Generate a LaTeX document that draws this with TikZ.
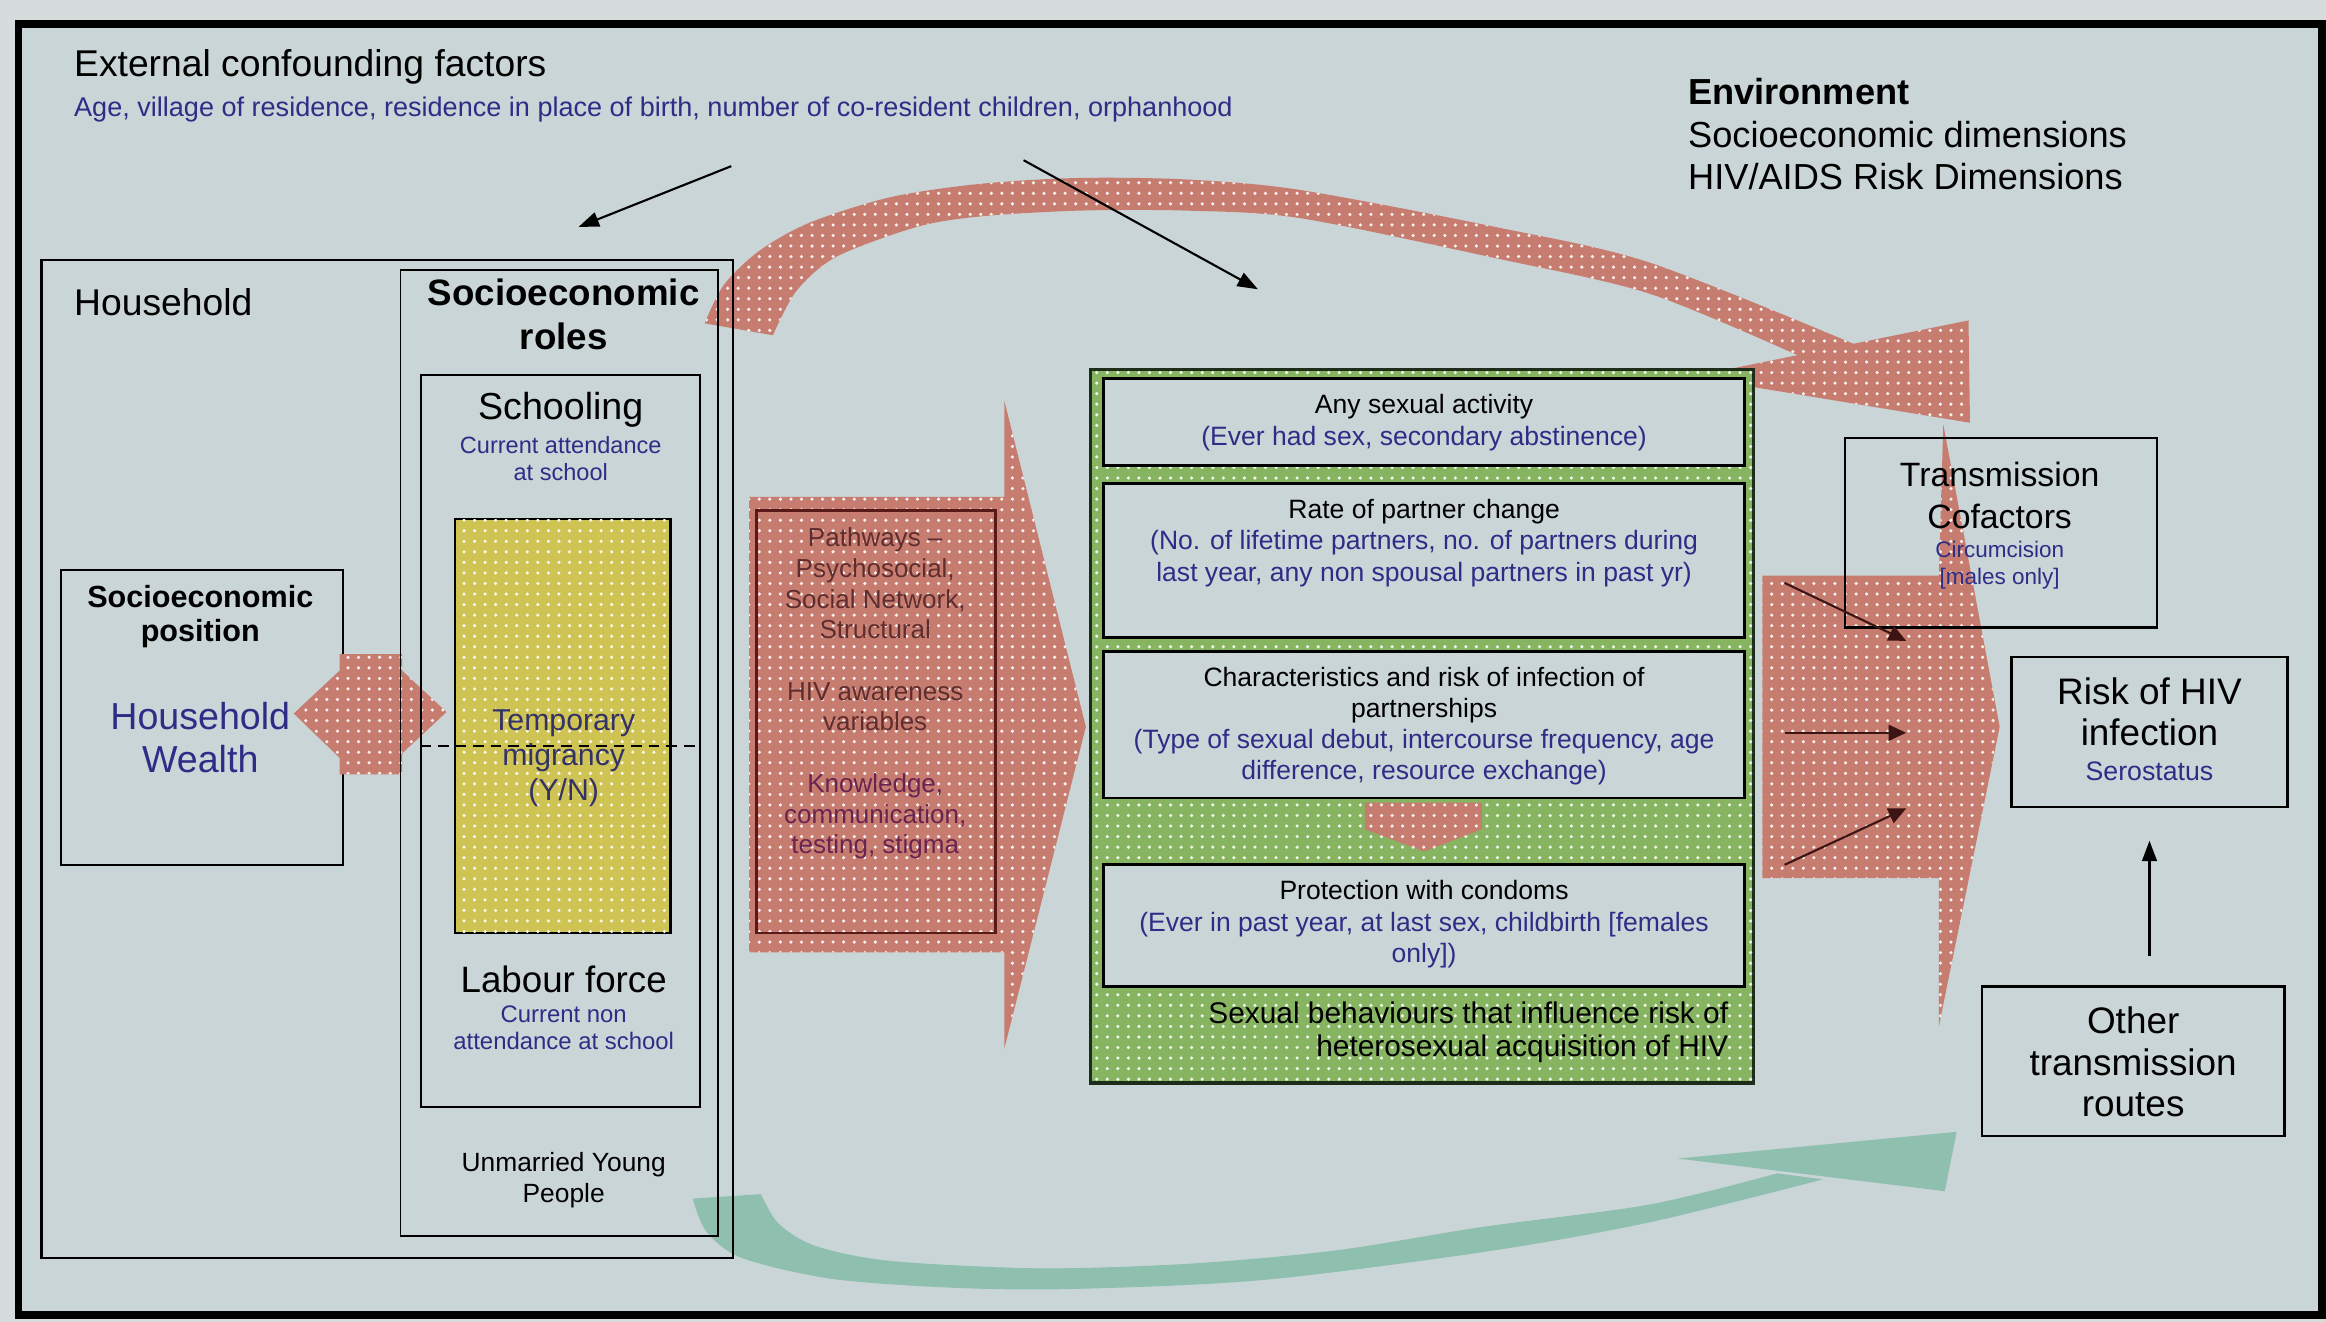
\documentclass[tikz,border=0pt]{standalone}
\usepackage{fontspec}
\setmainfont{Liberation Sans}
\usetikzlibrary{arrows.meta,fit,patterns}
\definecolor{outbg}{RGB}{214,220,220}
\definecolor{inbg}{RGB}{202,213,215}
\definecolor{salmon}{RGB}{199,124,112}
\definecolor{gbox}{RGB}{134,180,97}
\definecolor{gline}{RGB}{30,45,25}
\definecolor{ybox}{RGB}{207,195,84}
\definecolor{tealarr}{RGB}{143,191,175}
\definecolor{bluetxt}{RGB}{45,45,135}
\definecolor{migtxt}{RGB}{50,50,100}
\definecolor{pathtxt}{RGB}{95,45,45}
\definecolor{purptxt}{RGB}{105,35,80}
\definecolor{pathline}{RGB}{90,25,25}
\definecolor{darkarr}{RGB}{60,20,20}
\newcommand{\fs}[2]{\fontsize{#1pt}{#2pt}\selectfont}
\begin{document}
\begin{tikzpicture}[x=0.014834cm,y=-0.014834cm,
  boxst/.style={draw=black, line width=0.6pt, inner sep=0pt},
  txt/.style={inner sep=0pt, outer sep=0pt, align=center, text=black},
  dotfill/.style={fill=#1, postaction={pattern=dots, pattern color=white!90!#1}},
  arr/.style={-{Triangle[length=5.8pt,width=4.2pt]}, line width=0.6pt, draw=black},
  darr/.style={-{Triangle[length=5pt,width=4.5pt]}, line width=0.6pt, draw=darkarr}]
% background and frame
\fill[outbg] (0,0) rectangle (1568,891);
\useasboundingbox (0,0) rectangle (1568,891);
\node[fit={(12.5,16) (1565.5,886.5)}, inner sep=0pt, draw=black, line width=2.2pt, fill=inbg] (frame) {};
% top curved red arrow
\path[dotfill=salmon] plot[smooth] coordinates {(475,218) (488,192) (512,169) (546,150) (600,133) (660,124) (727,120) (800,121) (876,128) (1008,153) (1112,177) (1250,232)}
  -- plot[smooth] coordinates {(1213,240) (1112,198) (1008,174) (876,147) (800,142) (727,142) (660,146) (618,153) (564,173) (537,196) (521,226)} -- cycle;
\path[dotfill=salmon] (1140,254) -- (1327,216) -- (1328,285) -- cycle;
% big red block arrows
\path[dotfill=salmon] (505,335) -- (677,335) -- (677,270) -- (732,490) -- (677,707) -- (677,642) -- (505,642) -- cycle;
\path[dotfill=salmon] (1188,388) -- (1307,388) -- (1310,286) -- (1348,490) -- (1307,692) -- (1307,592) -- (1188,592) -- cycle;
% bottom curved green arrow
\fill[tealarr] plot[smooth] coordinates {(467,808) (476,830) (500,848) (560,862) (640,868) (720,869) (850,863) (1000,844) (1112,824) (1229,795)}
  -- plot[smooth] coordinates {(1198,791) (1112,812) (1000,827) (900,843) (800,852) (700,855) (600,850) (550,840) (525,825) (513,805)} -- cycle;
\fill[tealarr] (1131,781) -- (1319,763) -- (1311,803) -- cycle;
% household side
\node[boxst, fit={(28,175) (494,848)}] (household) {};
\node[boxst, fit={(41,384) (231,583)}] (sepos) {};
\path[dotfill=salmon] (229,441) -- (271,441) -- (271,452) -- (301,480) -- (271,508) -- (271,522) -- (229,522) -- (229,511) -- (198,481) -- (229,452) -- cycle;
\node[boxst, line width=0.5pt, fit={(270,182) (484,833)}] (roles) {};
\node[boxst, line width=0.5pt, fit={(284,253) (472,746)}] (school) {};
\node[boxst, dotfill=ybox, fit={(307,350) (452,629)}] (migr) {};
\coordinate (divy) at (0,503);
\draw[densely dashed, line width=0.5pt] (school.west |- divy) -- (school.east |- divy);
% pathways box
\node[draw=pathline, line width=0.7pt, inner sep=0pt, fit={(510,344) (671,629)}] (pathbox) {};
% sexual behaviours
\node[dotfill=gbox, draw=gline, line width=1pt, inner sep=0pt, fit={(735,249) (1182,730)}] (sexbeh) {};
\node[boxst, fill=inbg, line width=0.8pt, fit={(744,255) (1176,314)}] (anysex) {};
\node[boxst, fill=inbg, line width=0.8pt, fit={(744,326) (1176,430)}] (rate) {};
\node[boxst, fill=inbg, line width=0.8pt, fit={(744,439) (1176,538)}] (charac) {};
\node[boxst, fill=inbg, line width=0.8pt, fit={(744,583) (1176,665)}] (condom) {};
\path[dotfill=salmon] (920,541) -- (999,541) -- (999,559) -- (960,574) -- (920,559) -- cycle;
% right side boxes
\node[boxst, fit={(1244,295) (1454,423)}] (cofac) {};
\node[boxst, fit={(1356,443) (1542,544)}] (risk) {};
\node[boxst, fit={(1336,665) (1540,766)}] (other) {};
% texts
\node[txt, anchor=west, font=\fs{10.6}{12}] (exttitle) at (50,45) {External confounding factors};
\node[txt, anchor=west, text=bluetxt, font=\fs{7.7}{9}] (extlist) at (50,74) {Age, village of residence, residence in place of birth, number of co-resident children, orphanhood};
\node[txt, anchor=west, align=left, font=\fs{10.3}{12.03}] (envtext) at (1138,90.5) {\textbf{Environment}\\Socioeconomic dimensions\\HIV/AIDS Risk Dimensions};
\node[txt, anchor=west, font=\fs{10.6}{12}] (hhtitle) at (50,204) {Household};
\node[txt, font=\bfseries\fs{10.45}{12.66}] (rolestitle) at (380,212) {Socioeconomic\\roles};
\node[txt, font=\fs{10.7}{12}] (schooltitle) at (378,276) {Schooling};
\node[txt, text=bluetxt, font=\fs{6.7}{7.6}] (schoolsub) at (378,309) {Current attendance\\at school};
\node[txt, text=migtxt, font=\fs{8.6}{9.92}] (migtext) at (380,511) {Temporary\\migrancy\\(Y/N)};
\node[txt, font=\fs{10.45}{12}] (labtitle) at (380,660) {Labour force};
\node[txt, text=bluetxt, font=\fs{6.8}{7.6}] (labsub) at (380,693) {Current non\\attendance at school};
\node[txt, font=\fs{7.5}{8.86}] (unmarried) at (380,795.5) {Unmarried Young\\People};
\node[txt, font=\bfseries\fs{8.7}{9.7}] (sepostitle) at (135,415.5) {Socioeconomic\\position};
\node[txt, text=bluetxt, font=\fs{10.7}{12.24}] (wealth) at (135,497.5) {Household\\Wealth};
\node[txt, text=pathtxt, font=\fs{7.4}{8.74}] (pathtext) at (590,467.5) {Pathways --\\Psychosocial,\\Social Network,\\Structural\\[8.74pt]HIV awareness\\variables\\[8.74pt]\textcolor{purptxt}{Knowledge,}\\\textcolor{purptxt}{communication,}\\\textcolor{purptxt}{testing, stigma}};
\node[txt, font=\fs{7.55}{9.2}] (anysextext) at (960,285) {Any sexual activity\\\textcolor{bluetxt}{(Ever had sex, secondary abstinence)}};
\node[txt, font=\fs{7.55}{8.9}] (ratetext) at (960,366) {Rate of partner change\\\textcolor{bluetxt}{(No. of lifetime partners, no. of partners during}\\\textcolor{bluetxt}{last year, any non spousal partners in past yr)}};
\node[txt, font=\fs{7.55}{8.9}] (charactext) at (960,489.5) {Characteristics and risk of infection of\\partnerships\\\textcolor{bluetxt}{(Type of sexual debut, intercourse frequency, age}\\\textcolor{bluetxt}{difference, resource exchange)}};
\node[txt, font=\fs{7.55}{8.9}] (condomtext) at (960,623) {Protection with condoms\\\textcolor{bluetxt}{(Ever in past year, at last sex, childbirth [females}\\\textcolor{bluetxt}{only])}};
\node[txt, anchor=east, align=right, font=\fs{8.5}{9.3}] (sexbehtext) at (1165,696) {Sexual behaviours that influence risk of\\heterosexual acquisition of HIV};
\node[txt, font=\fs{9.6}{11.8}] (cofactitle) at (1348,334) {Transmission\\Cofactors};
\node[txt, text=bluetxt, font=\fs{6.4}{7.6}] (cofacsub) at (1348,381) {Circumcision\\{[}males only{]}};
\node[txt, font=\fs{10.5}{11.8}] (risktitle) at (1449,480) {Risk of HIV\\infection};
\node[txt, text=bluetxt, font=\fs{7.6}{9}] (risksub) at (1449,520) {Serostatus};
\node[txt, font=\fs{10.5}{11.8}] (othertext) at (1438,716) {Other\\transmission\\routes};
% connectors
\coordinate (e1s) at (493,112); \coordinate (e1e) at (390,153);
\coordinate (e2s) at (690,108); \coordinate (e2e) at (848,195);
\draw[arr] (e1s) -- (e1e);
\draw[arr] (e2s) -- (e2e);
\draw[arr, shorten <=8.4pt, shorten >=9.3pt] (risk.south |- other.north) -- (risk.south);
\coordinate (d1s) at (1203,393); \coordinate (d1e) at (1285,432);
\coordinate (d2s) at (1203,494); \coordinate (d2e) at (1285,494);
\coordinate (d3s) at (1203,583); \coordinate (d3e) at (1285,545);
\draw[darr] (d1s) -- (d1e);
\draw[darr] (d2s) -- (d2e);
\draw[darr] (d3s) -- (d3e);
\end{tikzpicture}
\end{document}
